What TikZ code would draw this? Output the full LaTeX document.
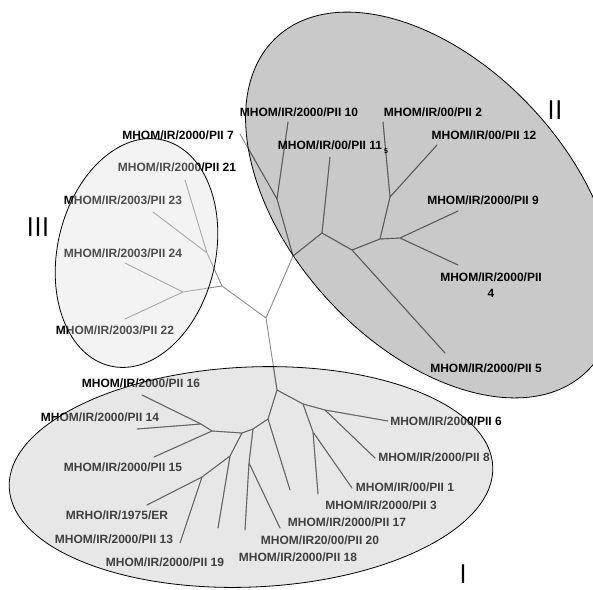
\documentclass[tikz,border=0pt]{standalone}
\usepackage{fontspec}
\setmainfont{Liberation Sans}
\begin{document}
\begin{tikzpicture}[x=1pt,y=-1pt,
  treeline/.style={line width=0.9pt,line join=round,line cap=round},
  lab/.style={font=\bfseries\fontsize{12}{15.5}\selectfont,inner sep=0pt,text=black},
  roman/.style={font=\sffamily\fontsize{27}{27}\selectfont,inner sep=0pt,text=black},
  ellborder/.style={draw=black,line width=0.8pt}]
\useasboundingbox (0,0) rectangle (593,589);
\fill[white] (0,0) rectangle (593,589);
% coordinates of the tree
\coordinate (A) at (266,318);
\coordinate (B) at (222,286);
\coordinate (K1) at (207,253);
\coordinate (K2) at (183,292);
\coordinate (L21) at (185,180);
\coordinate (L23) at (153,212);
\coordinate (L24) at (125,263);
\coordinate (L22) at (125,319);
\coordinate (J1) at (293,256);
\coordinate (J2) at (277,199);
\coordinate (L7) at (240,134);
\coordinate (L10) at (288,122);
\coordinate (J3) at (322,233);
\coordinate (L11) at (330,157);
\coordinate (J5) at (352,250);
\coordinate (L5) at (445,353);
\coordinate (J6) at (380,239);
\coordinate (J7) at (390,197);
\coordinate (L2) at (383,122);
\coordinate (L12) at (437,145);
\coordinate (J8) at (400,238);
\coordinate (L9) at (458,211);
\coordinate (L4) at (458,265);
\coordinate (D) at (277,390);
\coordinate (E1) at (303,404);
\coordinate (E3) at (325,410);
\coordinate (L6) at (388,421);
\coordinate (L8) at (375,458);
\coordinate (E2) at (313,432);
\coordinate (L1) at (352,488);
\coordinate (L3) at (318,494);
\coordinate (F1) at (268,419);
\coordinate (L17) at (290,490);
\coordinate (F2) at (253,429);
\coordinate (F3) at (249,463);
\coordinate (L18) at (245,530);
\coordinate (L20) at (280,528);
\coordinate (G0) at (242,433);
\coordinate (G1) at (230,456);
\coordinate (L19) at (218,528);
\coordinate (G2) at (202,477);
\coordinate (LER) at (147,505);
\coordinate (L13) at (180,543);
\coordinate (H) at (212,431);
\coordinate (L15) at (154,457);
\coordinate (H2) at (201,424);
\coordinate (L16) at (142,395);
\coordinate (L14) at (137,429);
\newcommand\mytreelines[1]{%
\draw[treeline,draw=#1] (A)--(B) (B)--(K1) (K1)--(L21) (K1)--(L23) (B)--(K2) (K2)--(L24) (K2)--(L22)
 (A)--(J1) (J1)--(J2) (J2)--(L7) (J2)--(L10) (J1)--(J3) (J3)--(L11) (J3)--(J5) (J5)--(L5)
 (J5)--(J6) (J6)--(J7) (J7)--(L2) (J7)--(L12) (J6)--(J8) (J8)--(L9) (J8)--(L4)
 (A)--(D) (D)--(E1) (E1)--(E3) (E3)--(L6) (E3)--(L8) (E1)--(E2) (E2)--(L1) (E2)--(L3)
 (D)--(F1) (F1)--(L17) (F1)--(F2) (F2)--(F3) (F3)--(L18) (F3)--(L20) (F2)--(G0)
 (G0)--(G1) (G1)--(L19) (G1)--(G2) (G2)--(LER) (G2)--(L13) (G0)--(H) (H)--(L15)
 (H)--(H2) (H2)--(L16) (H2)--(L14);}
\newcommand\ellII{[rotate around={-47.5:(431,205)}] (431,205) ellipse [x radius=228pt,y radius=140pt]}
\newcommand\ellI{[rotate around={2.5:(251,477)}] (251,477) ellipse [x radius=242pt,y radius=110pt]}
\newcommand\ellIII{[rotate around={-13:(136.5,253)}] (136.5,253) ellipse [x radius=79pt,y radius=116pt]}
% cluster II ellipse (behind)
\path[fill={rgb,255:red,201;green,201;blue,201}] \ellII;
% tree
\mytreelines{black!45}
\begin{scope}
\clip \ellII;
\mytreelines{black!66}
\end{scope}
\draw[ellborder] \ellII;
% labels, cluster II
\node[lab] (n7) at (178,135) {MHOM/IR/2000/PII 7};
\node[lab] (n10) at (299,112) {MHOM/IR/2000/PII 10};
\node[lab] (n11) at (330,145) {MHOM/IR/00/PII 11};
\node[font=\bfseries\fontsize{7}{7}\selectfont,inner sep=0pt] (n11s) at (386,151) {5};
\node[lab] (n2) at (433,112) {MHOM/IR/00/PII 2};
\node[lab] (n12) at (484,135) {MHOM/IR/00/PII 12};
\node[lab] (n9) at (483,200) {MHOM/IR/2000/PII 9};
\node[lab,align=center] (n4) at (491,285) {MHOM/IR/2000/PII\\4};
\node[lab] (n5) at (486,368) {MHOM/IR/2000/PII 5};
% labels, cluster III
\node[lab] (n21) at (177,167) {MHOM/IR/2000/PII 21};
\node[lab] (n23) at (123,200) {MHOM/IR/2003/PII 23};
\node[lab] (n24) at (123,253) {MHOM/IR/2003/PII 24};
\node[lab] (n22) at (115,330) {MHOM/IR/2003/PII 22};
% labels, cluster I
\node[lab] (n16) at (141,383) {MHOM/IR/2000/PII 16};
\node[lab] (n14) at (100,417) {MHOM/IR/2000/PII 14};
\node[lab] (n15) at (123,467) {MHOM/IR/2000/PII 15};
\node[lab] (ner) at (117,515) {MRHO/IR/1975/ER};
\node[lab] (n13) at (114,539) {MHOM/IR/2000/PII 13};
\node[lab] (n19) at (165,562) {MHOM/IR/2000/PII 19};
\node[lab] (n18) at (298,557) {MHOM/IR/2000/PII 18};
\node[lab] (n20) at (320,540) {MHOM/IR20/00/PII 20};
\node[lab] (n17) at (347,522) {MHOM/IR/2000/PII 17};
\node[lab] (n3) at (381,505) {MHOM/IR/2000/PII 3};
\node[lab] (n1) at (405,487) {MHOM/IR/00/PII 1};
\node[lab] (n8) at (434,457) {MHOM/IR/2000/PII 8};
\node[lab] (n6) at (446,421) {MHOM/IR/2000/PII 6};
% overlay ellipses I and III
\path[fill={rgb,255:red,186;green,186;blue,186},fill opacity=0.34] \ellI;
\path[fill={rgb,255:red,222;green,222;blue,222},fill opacity=0.35] \ellIII;
\begin{scope}
\clip \ellI;
\mytreelines{black!62}
\end{scope}
\draw[ellborder] \ellI;
\draw[ellborder] \ellIII;
% cluster numerals
\node[roman] (rII) at (555,110) {II};
\node[roman] (rIII) at (38,227) {III};
\node[roman] (rI) at (463,574) {I};
\end{tikzpicture}
\end{document}
